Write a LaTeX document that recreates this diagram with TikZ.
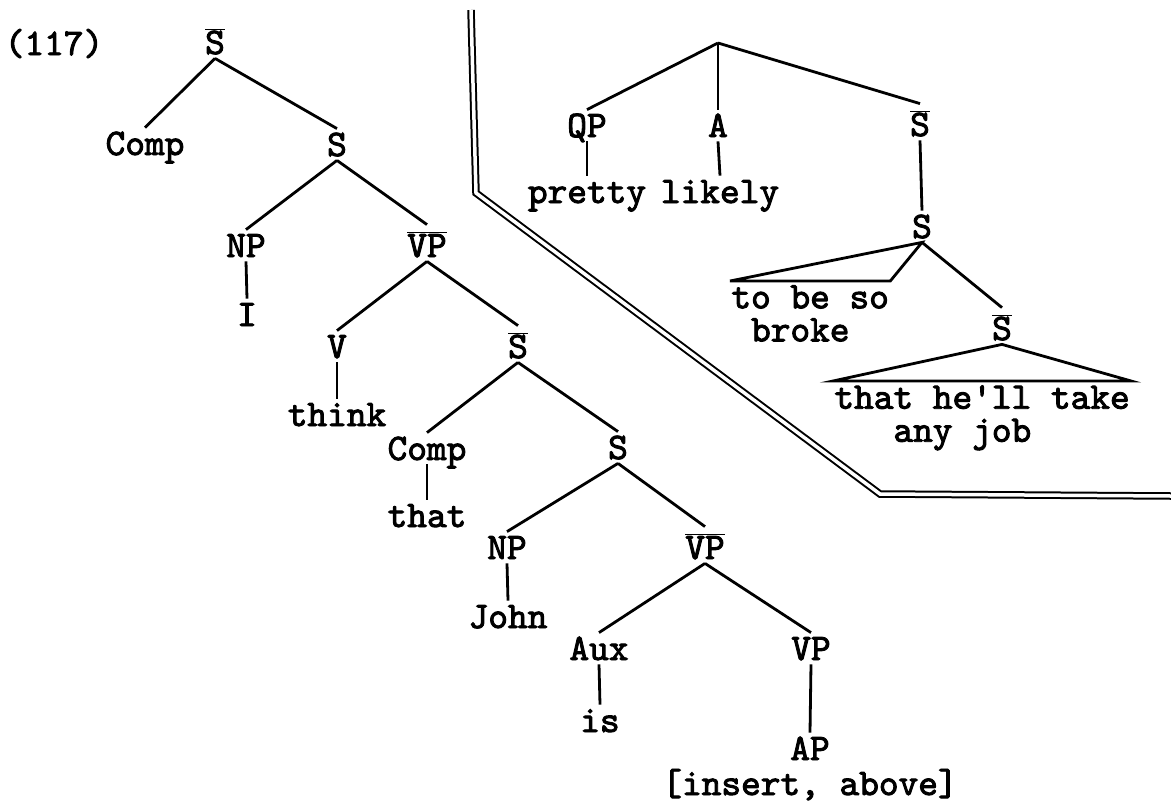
\documentclass[tikz,border=0pt]{standalone}
\usepackage{fontspec}
\setmainfont{lmmono10-regular.otf}[FakeBold=2.5]
\usetikzlibrary{shapes,positioning,arrows}
\newcommand{\olab}[1]{$\overline{\mbox{#1}}$}

\begin{document}
\begin{tikzpicture}[x=1pt, y=-1pt,
						every node/.style={font=\fontsize{37.5}{33}\selectfont, anchor=base, inner sep=3pt, text height=23pt, text depth=0pt},
						barcat/.style={text height=28pt},
						tri/.style={anchor=north west, align=left, inner xsep=0pt, inner ysep=3pt, text height=, text depth=},
						dbl/.style={double, double distance=3.5pt, line width=2pt},
						line width=2.8pt]
					\useasboundingbox (0,0) rectangle (1171,804);
					\node (num) at (54,55) {(117)};
					
					\node[barcat] (r0) at (215,54) {\olab{S}};
					\node (c1) at (145,155) {Comp};
					\node (s1) at (337,156) {S};
					\node (np1) at (246,257) {NP};
					\node (i1) at (247,326) {I};
					\node[barcat] (vb1) at (427,257) {\olab{VP}};
					\node (v1) at (337,358) {V};
					\node (th1) at (337,426) {think};
					\node[barcat] (sb2) at (518,358) {\olab{S}};
					\node (c2) at (427,460) {Comp};
					\node (tt2) at (427,527) {that};
					\node (s2) at (618,459) {S};
					\node (np2) at (507,559) {NP};
					\node (jn) at (508,628) {John};
					\node[barcat] (vb2) at (705,559) {\olab{VP}};
					\node (aux) at (599,660) {Aux};
					\node (is) at (600,732) {is};
					\node (vp) at (811,660) {VP};
					\node (ap) at (810,760) {AP};
					\node (ins) at (810,795) {[insert, above]};
					
					\draw (r0.south) -- (c1.north);
					\draw (r0.south) -- (s1.north);
					\draw (s1.south) -- (np1.north);
					\draw (s1.south) -- (vb1.north);
					\draw (np1.south) -- (i1.north);
					\draw (vb1.south) -- (v1.north);
					\draw (vb1.south) -- (sb2.north);
					\draw (v1.south) -- (th1.north);
					\draw (sb2.south) -- (c2.north);
					\draw (sb2.south) -- (s2.north);
					\draw (c2.south) -- (tt2.north);
					\draw (s2.south) -- (np2.north);
					\draw (s2.south) -- (vb2.north);
					\draw (np2.south) -- (jn.north);
					\draw (vb2.south) -- (aux.north);
					\draw (vb2.south) -- (vp.north);
					\draw (aux.south) -- (is.north);
					\draw (vp.south) -- (ap.north);
					
					\coordinate (top) at (718,43);
					\node (qp) at (587,137) {QP};
					\node (a) at (718,137) {A};
					\node[barcat] (sb3) at (920,136) {\olab{S}};
					\node (pr) at (587,203) {pretty};
					\node (lk) at (720,203) {likely};
					\node (s3) at (922,238) {S};
					\node[tri] (tbs) at (730,281) {to be so\\\phantom{t}broke};
					\node[barcat] (sb4) at (1002,340) {\olab{S}};
					\node[tri] (thj) at (833,381) {that he\textquotesingle ll take\\\phantom{tha}any job};
					
					\draw (top) -- (qp.north);
					\draw (top) -- (a.north);
					\draw (top) -- (sb3.north);
					\draw (qp.south) -- (pr.north);
					\draw (a.south) -- (lk.north);
					\draw (sb3.south) -- (s3.north);
					\draw (s3.south) -- (tbs.north west) -- (tbs.north east) -- cycle;
					\draw (s3.south) -- (sb4.north);
					\draw (sb4.south) -- (thj.north west) -- (thj.north east) -- cycle;
					
					\draw[dbl] (471,10) -- (476,193) -- (880,494) -- (1171,496);
				\end{tikzpicture}
\end{document}
